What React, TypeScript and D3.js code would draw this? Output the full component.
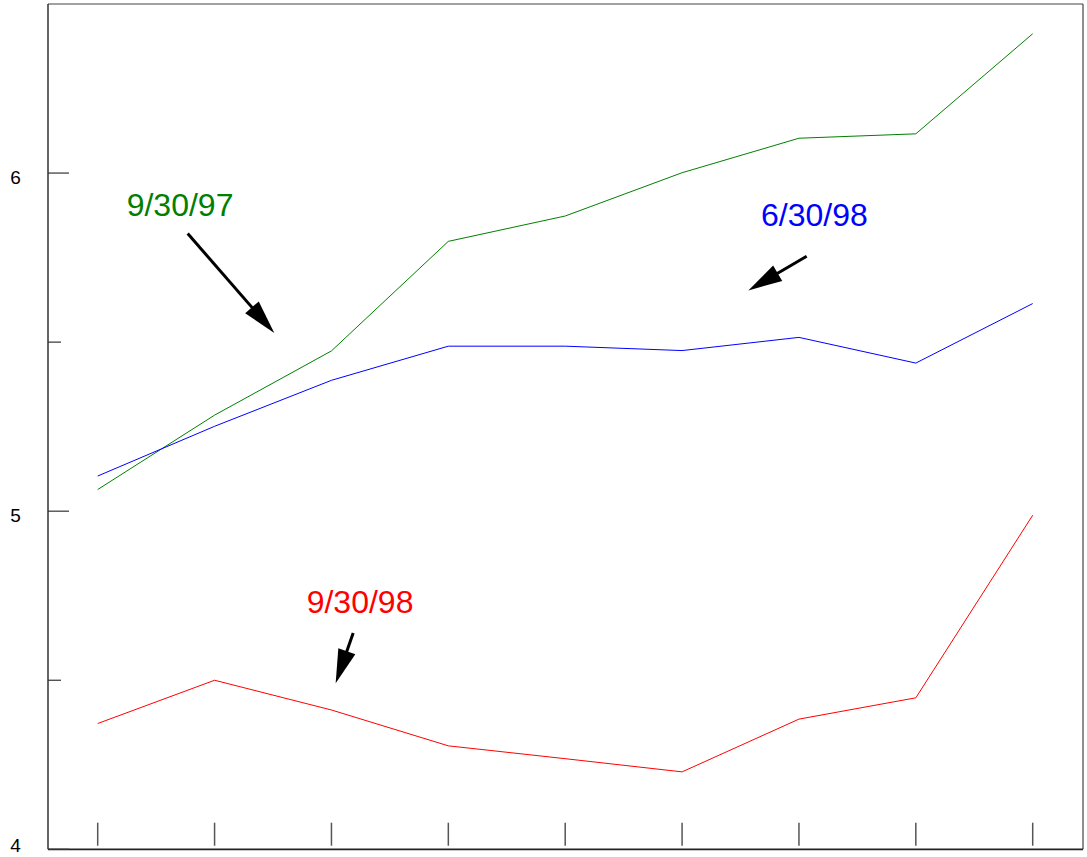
import React from "react";
import * as d3 from "d3";

const xIndex = [1, 2, 3, 4, 5, 6, 7, 8, 9];
const series930_97 = [5.064, 5.284, 5.474, 5.798, 5.873, 6.001, 6.103, 6.116, 6.412];
const series630_98 = [5.104, 5.251, 5.387, 5.488, 5.488, 5.475, 5.514, 5.438, 5.614];
const series930_98 = [4.372, 4.5, 4.412, 4.306, 4.268, 4.229, 4.385, 4.448, 4.988];
const yMajorTicks = [4, 5, 6];
const yMinorTicks = [4.5, 5.5];

const seriesList = [
  { name: "9/30/97", values: series930_97, color: "#008000" },
  { name: "6/30/98", values: series630_98, color: "#0000ff" },
  { name: "9/30/98", values: series930_98, color: "#ff0000" },
];

// annotations in data coordinates
const annotations = [
  { label: "9/30/97", color: "#008000", tx: 1.248, ty: 5.873, ax0: 1.77, ay0: 5.821, ax1: 2.511, ay1: 5.527 },
  { label: "6/30/98", color: "#0000ff", tx: 6.675, ty: 5.842, ax0: 7.066, ay0: 5.754, ax1: 6.567, ay1: 5.653 },
  { label: "9/30/98", color: "#ff0000", tx: 2.788, ty: 4.698, ax0: 3.186, ay0: 4.64, ax1: 3.036, ay1: 4.491 },
];

export default function App() {
  const W = 1087;
  const H = 857;
  const left = 48;
  const right = 1083;
  const top = 4;
  const bottom = 849.3;

  const x = d3.scaleLinear().domain([1, 9]).range([97.7, 1032.7]);
  const y = d3.scaleLinear().domain([4, 6.5]).range([bottom, top]);
  const line = d3
    .line<number>()
    .x((_, i) => x(xIndex[i]))
    .y((d) => y(d));

  const font = "'Liberation Sans', Arial, Helvetica, sans-serif";

  const arrowHead = (x0: number, y0: number, x1: number, y1: number) => {
    const dx = x1 - x0;
    const dy = y1 - y0;
    const len = Math.sqrt(dx * dx + dy * dy);
    const ux = dx / len;
    const uy = dy / len;
    const hl = 34;
    const hw = 9;
    const bx = x1 - ux * hl;
    const by = y1 - uy * hl;
    const p1 = [bx - uy * hw, by + ux * hw];
    const p2 = [bx + uy * hw, by - ux * hw];
    return {
      poly: `${x1},${y1} ${p1[0]},${p1[1]} ${p2[0]},${p2[1]}`,
      sx: x1 - ux * (hl - 4),
      sy: y1 - uy * (hl - 4),
    };
  };

  return (
    <svg
      width={W}
      height={H}
      style={{ position: "absolute", left: 0, top: 0, background: "#fff" }}
    >
      <rect x={0} y={0} width={W} height={H} fill="#fff" />
      {/* frame */}
      <line x1={left} y1={top} x2={right} y2={top} stroke="#444" strokeWidth={1.2} />
      <line x1={right} y1={top} x2={right} y2={bottom} stroke="#444" strokeWidth={1.2} />
      <line x1={left} y1={top} x2={left} y2={bottom} stroke="#111" strokeWidth={1.3} />
      <line x1={left} y1={bottom} x2={right} y2={bottom} stroke="#222" strokeWidth={1.8} />

      {/* y ticks */}
      {yMajorTicks.map((t) => (
        <g key={"M" + t}>
          <line x1={left} x2={left + 21} y1={y(t)} y2={y(t)} stroke="#333" strokeWidth={1.2} />
          <text
            x={15.5}
            y={Math.min(y(t) + 10.5, 852)}
            textAnchor="middle"
            fontFamily={font}
            fontSize={19}
            fill="#000"
          >
            {t}
          </text>
        </g>
      ))}
      {yMinorTicks.map((t) => (
        <line key={"m" + t} x1={left} x2={left + 13} y1={y(t)} y2={y(t)} stroke="#333" strokeWidth={1.2} />
      ))}

      {/* x ticks */}
      {xIndex.map((v) => (
        <line key={"x" + v} x1={x(v)} x2={x(v)} y1={822.7} y2={845.7} stroke="#555" strokeWidth={1.5} />
      ))}

      {/* series */}
      {seriesList.map((s) => (
        <path key={s.name} d={line(s.values) || ""} fill="none" stroke={s.color} strokeWidth={1} />
      ))}

      {/* annotations */}
      {annotations.map((a) => {
        const x0 = x(a.ax0);
        const y0 = y(a.ay0);
        const x1 = x(a.ax1);
        const y1 = y(a.ay1);
        const h = arrowHead(x0, y0, x1, y1);
        return (
          <g key={a.label}>
            <text x={x(a.tx)} y={y(a.ty)} fontFamily={font} fontSize={32} fill={a.color}>
              {a.label}
            </text>
            <line x1={x0} y1={y0} x2={h.sx} y2={h.sy} stroke="#000" strokeWidth={3} />
            <polygon points={h.poly} fill="#000" />
          </g>
        );
      })}
    </svg>
  );
}
